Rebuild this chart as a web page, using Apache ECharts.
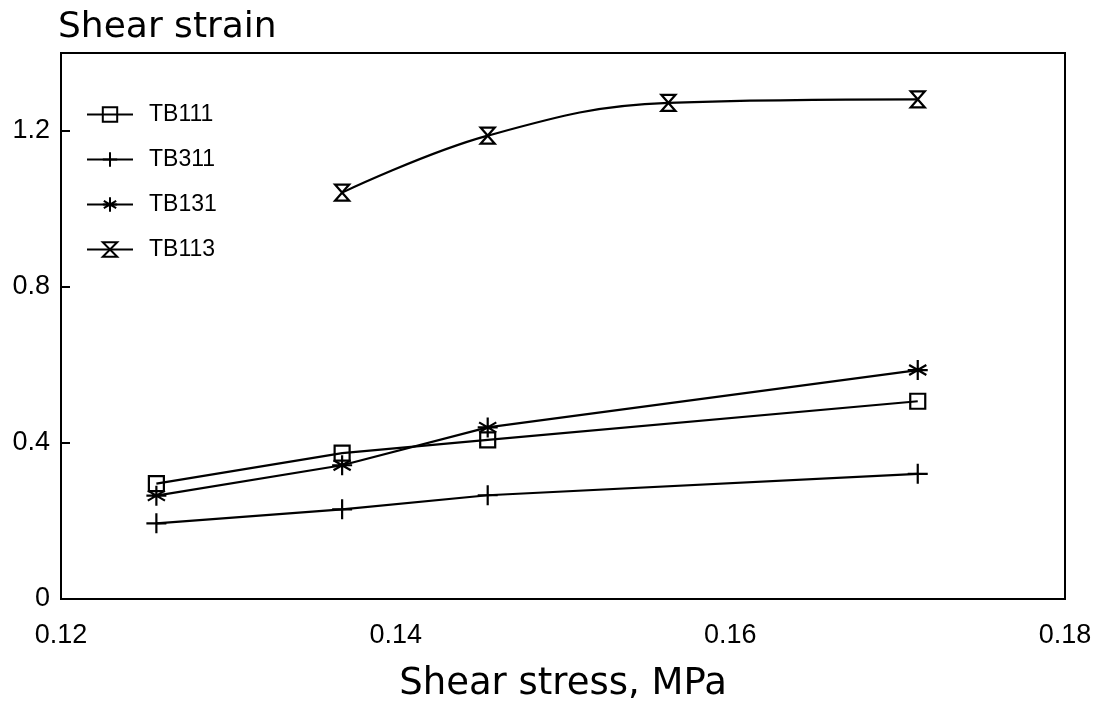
<!DOCTYPE html>
<html>
<head>
<meta charset="utf-8">
<script src="https://cdn.jsdelivr.net/npm/echarts@6/dist/echarts.min.js"></script>
<style>
  html, body { margin: 0; padding: 0; background: #fff; }
  #chart { width: 1097px; height: 708px; }
</style>
</head>
<body>
<div id="chart"></div>
<script>
// shear stress (MPa) at each load step
var stressX = [0.1257, 0.1368, 0.1455, 0.1563, 0.1712];
var tb111 = [0.296, 0.374, 0.408, 0.507];   // steps 0,1,2,4
var tb311 = [0.194, 0.230, 0.266, 0.321];   // steps 0,1,2,4
var tb131 = [0.265, 0.343, 0.440, 0.587];   // steps 0,1,2,4
var tb113 = [1.042, 1.188, 1.272, 1.281];   // steps 1,2,3,4
var xTickLabels = ["0.12", "0.14", "0.16", "0.18"];
var yTickLabels = ["0", "0.4", "0.8", "1.2"];

function pairs(idx, vals) {
  var out = [];
  for (var i = 0; i < vals.length; i++) {
    out.push([stressX[idx[i]], vals[i]]);
  }
  return out;
}

var plusPath = "path://M0,5L10,5M5,0L5,10";
var starPath = "path://M5,0L5,10M0.7,2.5L9.3,7.5M0.7,7.5L9.3,2.5M0,5L10,5";
var hourPath = "path://M0,0L10,0L0,10L10,10Z";

function mkSeries(name, data, symbol, size, smooth) {
  return {
    name: name,
    type: "line",
    data: data,
    symbol: symbol,
    symbolSize: size,
    smooth: smooth || false,
    showAllSymbol: true,
    lineStyle: { color: "#000", width: 2.2 },
    itemStyle: { color: "rgba(255,255,255,0)", borderColor: "#000", borderWidth: 2.2 },
    emphasis: { disabled: true },
    animation: false,
    z: 3
  };
}

var myChart = echarts.init(document.getElementById("chart"));
var option = {
  backgroundColor: "#fff",
  title: {
    text: "Shear strain",
    left: 53,
    top: 5,
    textStyle: { fontFamily: "DejaVu Sans", fontWeight: "normal", fontSize: 36, color: "#000" }
  },
  legend: {
    orient: "vertical",
    left: 81,
    top: 98,
    itemWidth: 46,
    itemHeight: 18,
    itemGap: 22,
    textStyle: { fontFamily: "Liberation Sans", fontSize: 23, color: "#000", padding: [0, 0, 0, 11] },
    data: ["TB111", "TB311", "TB131", "TB113"]
  },
  grid: {
    left: 61,
    right: 32,
    top: 53,
    bottom: 107,
    show: true,
    borderColor: "#000",
    borderWidth: 2,
    backgroundColor: "transparent"
  },
  xAxis: {
    type: "value",
    min: 0.12,
    max: 0.18,
    interval: 0.02,
    name: "Shear stress, MPa",
    nameLocation: "middle",
    nameGap: 67,
    nameTextStyle: { fontFamily: "DejaVu Sans", fontSize: 37, color: "#000" },
    axisLine: { show: false },
    axisTick: { show: false },
    splitLine: { show: false },
    axisLabel: {
      margin: 23,
      fontFamily: "Liberation Sans",
      fontSize: 27,
      color: "#000",
      formatter: function (v) {
        var k = Math.round((v - 0.12) / 0.02);
        return xTickLabels[k] || "";
      }
    }
  },
  yAxis: {
    type: "value",
    min: 0,
    max: 1.4,
    interval: 0.4,
    axisLine: { show: false },
    axisTick: { show: true, inside: true, length: 9, lineStyle: { color: "#000", width: 2 } },
    splitLine: { show: false },
    axisLabel: {
      margin: 11,
      showMaxLabel: false,
      fontFamily: "Liberation Sans",
      fontSize: 27,
      color: "#000",
      formatter: function (v) {
        var k = Math.round(v / 0.4);
        return Math.abs(v - k * 0.4) < 1e-6 ? (yTickLabels[k] || "") : "";
      }
    }
  },
  series: [
    mkSeries("TB111", pairs([0, 1, 2, 4], tb111), "rect", 15),
    mkSeries("TB311", pairs([0, 1, 2, 4], tb311), plusPath, 20),
    mkSeries("TB131", pairs([0, 1, 2, 4], tb131), starPath, 20),
    mkSeries("TB113", pairs([1, 2, 3, 4], tb113), hourPath, [14, 16], 0.4)
  ]
};
myChart.setOption(option);
</script>
</body>
</html>
